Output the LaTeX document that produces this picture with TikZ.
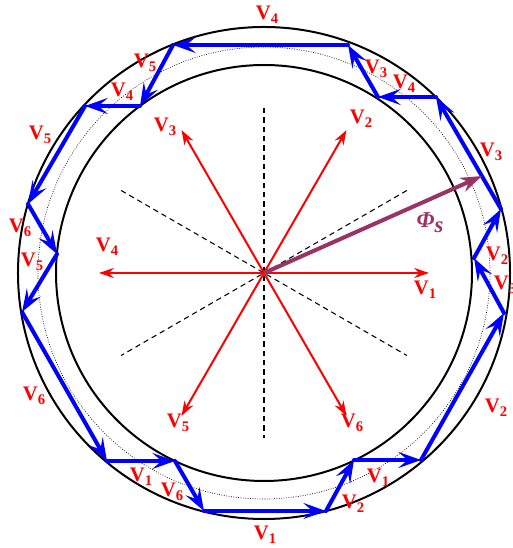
\documentclass[tikz,border=0pt]{standalone}
\usepackage{fontspec}
\setmainfont{Liberation Serif}
\usetikzlibrary{arrows.meta}
\definecolor{FluxPurple}{HTML}{993366}
\newcommand{\vlab}[1]{V\raisebox{-3.3pt}{\fontsize{11}{12}\selectfont #1}}

\begin{document}
\begin{tikzpicture}[x=0.75pt,y=0.75pt,font=\fontsize{15.5}{17}\selectfont\bfseries,
  ring/.style={line width=1.5pt},
  sector/.style={dashed,line width=0.8pt,dash pattern=on 4pt off 3pt},
  vaxis/.style={red,line width=1.5pt,-{Stealth[length=11pt,width=7.5pt,inset=3.5pt]}},
  vstep/.style={blue,line width=3pt,line cap=round,-{Stealth[length=17pt,width=12pt,inset=7pt]}},
  lab/.style={red,inner sep=0pt}]
  \useasboundingbox (-264,-275) rectangle (248,273);
  \coordinate (O) at (0,0);
  \draw[ring] (O) circle (246);
  \draw[ring] (O) circle (208);
  \draw[line width=0.5pt,dash pattern=on 0.6pt off 1.2pt] (O) circle (226);
  \foreach \a in {30,90,150} \draw[sector] (\a:165) -- (\a+180:165);
  \foreach \k in {1,...,6} \draw[vaxis] (O) -- ({60*(\k-1)}:165) coordinate (t\k);
  % switching points of the flux trajectory
  \coordinate (a) at (210,15);     \coordinate (b) at (237,64);
  \coordinate (c) at (172,176);    \coordinate (d) at (114,176);
  \coordinate (e) at (84,228);     \coordinate (f) at (-91,228);
  \coordinate (g) at (-124,167);   \coordinate (h) at (-179,167);
  \coordinate (i) at (-236,69);    \coordinate (j) at (-207,19);
  \coordinate (k) at (-242,-39);   \coordinate (l) at (-157,-188);
  \coordinate (m) at (-89,-188);   \coordinate (n) at (-60,-238);
  \coordinate (o) at (62,-238);    \coordinate (p) at (90,-187);
  \coordinate (q) at (157,-187);   \coordinate (r) at (240,-40);
  \foreach \s/\e in {r/a,a/b,b/c,c/d,d/e,e/f,f/g,g/h,h/i,i/j,j/k,k/l,l/m,m/n,n/o,o/p,p/q,q/r}
    \draw[vstep] (\s) -- (\e);
  \coordinate (tip) at (218,97);
  \draw[FluxPurple,line width=3pt,-{Stealth[length=16pt,width=11pt,inset=5pt]}] (O) -- (tip);
  \node[FluxPurple,inner sep=0pt] (phis) at (166,50) {\fontsize{17}{18}\selectfont\itshape Φ\raisebox{-3.5pt}{s}};
  \foreach \x/\y/\v [count=\n] in {161/-17/1,97/154/2,-99/146/3,-157/26/4,-86/-150/5,88/-150/6}
    \node[lab] (ax\n) at (\x,\y) {\vlab{\v}};
  \foreach \x/\y/\v [count=\n] in {3/258/4,-119/210/5,-142/181/4,-224/138/5,-244/45/6,-232/11/5,
      -230/-123/6,-123/-204/1,-92/-219/6,1/-262/1,89/-231/2,114/-205/1,232/-135/2,
      241/-12/3,233/17/2,227/121/3,140/189/4,112/204/3}
    \node[lab] (sw\n) at (\x,\y) {\vlab{\v}};
\end{tikzpicture}
\end{document}
